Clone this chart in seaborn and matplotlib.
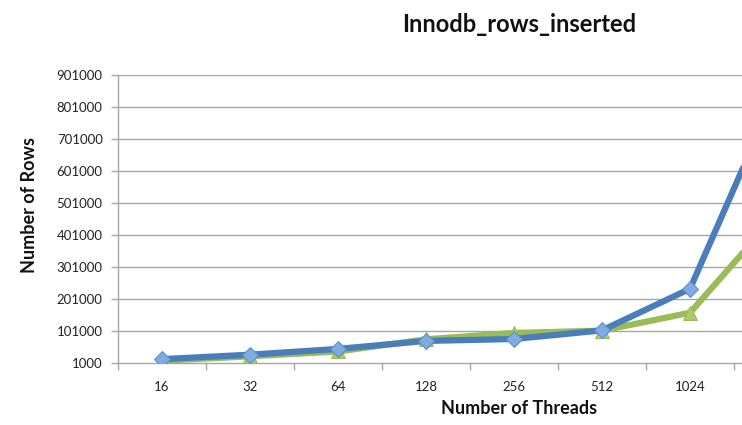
import numpy as np
import matplotlib
matplotlib.use('Agg')
import matplotlib.pyplot as plt
from matplotlib.ticker import FixedLocator
import seaborn as sns

threads = ['16', '32', '64', '128', '256', '512', '1024', '2048']
rows_blue = [13000, 27000, 45000, 70000, 76000, 103000, 233000, 860000]
rows_green = [8000, 22000, 37000, 75000, 95000, 102000, 158000, 470000]
y_ticks = [1000, 101000, 201000, 301000, 401000, 501000, 601000, 701000, 801000, 901000]

sns.set_style('white')
plt.rcParams['font.family'] = ['Lato', 'DejaVu Sans']

fig = plt.figure(figsize=(7.42, 4.25), dpi=100)
# axes run past the right edge, the reference is cropped there
ax = fig.add_axes([118 / 742, 62 / 425, 704 / 742, 288 / 425])

pos = np.arange(len(threads))
grid_c = '#a6a6a6'
for t in y_ticks[1:]:
    ax.axhline(t, color=grid_c, lw=1.0, zorder=0)

sns.lineplot(x=pos, y=rows_green, ax=ax, color='#9bbb59', lw=4.5, marker='^',
             markersize=10, markerfacecolor='#a9cc66', markeredgecolor='#9bbb59',
             zorder=3)
sns.lineplot(x=pos, y=rows_blue, ax=ax, color='#4a7ebb', lw=4.5, marker='D',
             markersize=8, markerfacecolor='#7faae2', markeredgecolor='#5b8dd0',
             zorder=4)

ax.set_xlim(-0.5, len(threads) - 0.5)
ax.set_ylim(1000, 901000)
ax.set_xticks(pos)
ax.set_xticklabels(threads)
# last category falls outside the cropped picture
ax.get_xticklabels()[-1].set_visible(False)
ax.xaxis.set_minor_locator(FixedLocator(np.arange(len(threads) + 1) - 0.5))
ax.tick_params(axis='x', which='major', length=0, pad=13, labelsize=9.5, labelcolor='#222222')
ax.tick_params(axis='x', which='minor', length=5, width=1, color=grid_c, direction='out', bottom=True)
ax.set_yticks(y_ticks)
ax.set_yticklabels([str(v) for v in y_ticks])
ax.tick_params(axis='y', length=5, width=1, color=grid_c, direction='out', left=True,
               pad=6, labelsize=9.5, labelcolor='#222222')
for s in ['top', 'right']:
    ax.spines[s].set_visible(False)
for s in ['left', 'bottom']:
    ax.spines[s].set_color(grid_c)
    ax.spines[s].set_linewidth(1.0)
ax.set_xlabel('')
ax.set_ylabel('')

fig.text(519 / 742, 1 - 25 / 425, 'Innodb_rows_inserted', ha='center', va='center',
         fontsize=17, fontweight='bold', color='#111111')
fig.text(519 / 742, 1 - 409 / 425, 'Number of Threads', ha='center', va='center',
         fontsize=13, fontweight='bold', color='#111111')
fig.text(30 / 742, 1 - 205 / 425, 'Number of Rows', ha='center', va='center',
         rotation=90, fontsize=13, fontweight='bold', color='#111111')

fig.savefig('out.png', dpi=100)
